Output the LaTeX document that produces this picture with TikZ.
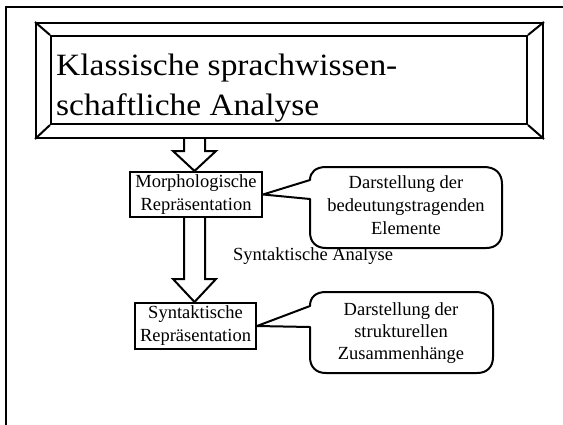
\documentclass[tikz,border=0pt]{standalone}
\usepackage{fontspec}
\setmainfont{Liberation Serif}
\newfontfamily\titlefont[FakeStretch=1.08]{Liberation Serif}
\usetikzlibrary{calc}
\tikzset{
  ln/.style={line width=2pt, line join=miter},
  boxnode/.style={ln, draw, rectangle, inner sep=0pt, align=center, font=\fontsize{18.5}{23}\selectfont},
  txt/.style={inner sep=0pt, align=center, font=\fontsize{18.5}{23}\selectfont},
  bubble/.style={ln, draw, fill=white, line join=round},
  blockarrow/.style={ln, fill=white}
}
\begin{document}
\begin{tikzpicture}[x=1pt,y=-1pt]
\useasboundingbox (0,0) rectangle (563,424);
\clip (0,0) rectangle (563,424);
\fill[white] (0,0) rectangle (563,424);
% outer frame
\coordinate (frTR) at (570,7);
\coordinate (frC) at (6,7);
\coordinate (frBL) at (6,430);
\draw[ln] (frTR) -- (frC) -- (frBL);
% title bevel box
\node[ln, draw, rectangle, minimum width=507pt, minimum height=115pt, inner sep=0pt] (title) at (289.5,80.5) {};
\node[ln, draw, rectangle, minimum width=476pt, minimum height=88pt, inner sep=0pt] (titlein) at (289,80) {};
\draw[ln] (title.north west) -- (titlein.north west);
\draw[ln] (title.north east) -- (titlein.north east);
\draw[ln] (title.south west) -- (titlein.south west);
\draw[ln] (title.south east) -- (titlein.south east);
\node[inner sep=0pt, anchor=north west, align=left, font=\titlefont\fontsize{31}{39.5}\selectfont] (titletext) at (56,53.8) {Klassische sprachwissen-\\schaftliche Analyse};
% boxes
\node[boxnode, minimum width=132pt, minimum height=45pt] (morph) at (196,194.5) {Morphologische\\Repräsentation};
\node[boxnode, minimum width=121pt, minimum height=46pt] (synt) at (195.5,326) {Syntaktische\\Repräsentation};
% label
\node[txt, anchor=base west] (analyse) at (233,260) {Syntaktische Analyse};
% block arrows
\draw[blockarrow] (184,0 |- title.south) -- (184,151) -- (173,151) -- (194.5,0 |- morph.north) -- (216,151) -- (205,151) -- (205,0 |- title.south);
\draw[blockarrow] (184,0 |- morph.south) -- (184,279) -- (173,279) -- (194.5,0 |- synt.north) -- (216,279) -- (205,279) -- (205,0 |- morph.south);
% bubble 1
\draw[bubble] (morph.east) -- (310,180) .. controls (310,172) and (316,167) .. (326,167) -- (484,167) .. controls (495,167) and (502,173) .. (502,184) -- (502,232) .. controls (502,242) and (496,248) .. (486,248) -- (326,248) .. controls (316,248) and (310,242) .. (310,232) -- (310,199) -- cycle;
\node[txt] (b1) at (406,205) {Darstellung der\\bedeutungstragenden\\Elemente};
% bubble 2
\draw[bubble] (synt.east) -- (310,306) .. controls (310,297) and (316,292) .. (326,292) -- (476,292) .. controls (486,292) and (493,298) .. (493,308) -- (493,357) .. controls (493,367) and (487,373) .. (477,373) -- (326,373) .. controls (316,373) and (310,367) .. (310,357) -- (310,327) -- cycle;
\node[txt, font=\fontsize{18.5}{22}\selectfont] (b2) at (401,333) {Darstellung der\\strukturellen\\Zusammenhänge};
\end{tikzpicture}
\end{document}
